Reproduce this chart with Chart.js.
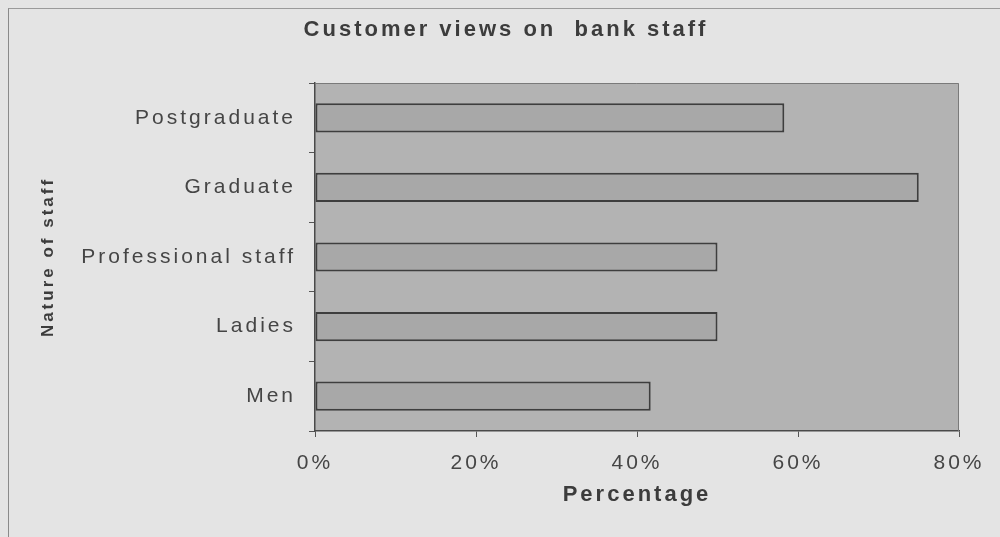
<!DOCTYPE html>
<html>
<head>
<meta charset="utf-8">
<script src="https://cdn.jsdelivr.net/npm/chart.js@4"></script>
<style>
  html, body { margin: 0; padding: 0; background: #e4e4e4; }
  #wrap { position: relative; width: 1000px; height: 537px; }
  #frame {
    position: absolute; left: 8px; top: 8px; right: 0; bottom: 0;
    border-left: 1px solid #8a8a8a; border-top: 1px solid #9a9a9a;
  }
  #myChart { position: absolute; left: 0; top: 0; }
</style>
</head>
<body>
<div id="wrap">
  <div id="frame"></div>
  <canvas id="myChart" width="1000" height="537"></canvas>
</div>
<script>
// Staff categories, top to bottom
const labels = ['Postgraduate', 'Graduate', 'Professional staff', 'Ladies', 'Men'];

// Share of customers with a favourable view (%)
const values = [58.3, 75, 50, 50, 41.7];

// Percentage axis
const xMin = 0;
const xMax = 80;
const xStep = 20;

const TEXT = '#3c3c3c';
const FONT = "'Liberation Sans', Arial, sans-serif";

// Spaced-out lettering, reapplied whenever the canvas state is reset
const spacing = {
    id: 'spacing',
    beforeLayout(chart) { chart.ctx.letterSpacing = '3px'; },
    beforeDraw(chart) { chart.ctx.letterSpacing = '3px'; }
};

// Grey plot background with a thin outline on top and right
const plotArea = {
    id: 'plotArea',
    beforeDraw(chart) {
        const { ctx, chartArea: a } = chart;
        ctx.save();
        ctx.fillStyle = '#b3b3b3';
        ctx.fillRect(a.left, a.top, a.right - a.left, a.bottom - a.top);
        ctx.restore();
    },
    beforeDatasetsDraw(chart) {
        const { ctx, chartArea: a } = chart;
        ctx.save();
        ctx.strokeStyle = '#7a7a7a';
        ctx.lineWidth = 1;
        ctx.beginPath();
        ctx.moveTo(a.left, a.top + 0.5);
        ctx.lineTo(a.right - 0.5, a.top + 0.5);
        ctx.lineTo(a.right - 0.5, a.bottom);
        ctx.stroke();
        ctx.restore();
    }
};

const data = {
    labels: labels,
    datasets: [{
        data: values,
        backgroundColor: '#a8a8a8',
        borderColor: '#3e3e3e',
        borderWidth: 2,
        borderSkipped: false,
        barPercentage: 0.42,
        categoryPercentage: 1
    }]
};

const config = {
    type: 'bar',
    data: data,
    plugins: [spacing, plotArea],
    options: {
        indexAxis: 'y',
        responsive: false,
        animation: false,
        // left padding only centres the title; the y axis width below fixes the plot edge
        layout: { padding: { left: 53, right: 41, top: 0, bottom: 0 } },
        plugins: {
            legend: { display: false },
            tooltip: { enabled: false },
            title: {
                display: true,
                text: 'Customer views on  bank staff',
                color: TEXT,
                font: { family: FONT, size: 22, weight: 'bold', lineHeight: 1.2 },
                padding: { top: 17, bottom: 39.6 }
            }
        },
        scales: {
            x: {
                min: xMin,
                max: xMax,
                afterFit(scale) { scale.height = 106; },
                ticks: {
                    stepSize: xStep,
                    color: '#454545',
                    padding: 14,
                    font: { family: FONT, size: 21, lineHeight: 1.2 },
                    callback: v => v + '%'
                },
                grid: {
                    drawOnChartArea: false,
                    drawTicks: true,
                    tickLength: 6,
                    color: '#555'
                },
                border: { display: true, color: '#4a4a4a', width: 1.5 },
                title: {
                    display: true,
                    text: 'Percentage',
                    color: TEXT,
                    font: { family: FONT, size: 22, weight: 'bold', lineHeight: 1.2 },
                    padding: { top: 0, bottom: 29 }
                }
            },
            y: {
                afterFit(scale) { scale.width = 262; },
                ticks: {
                    color: '#454545',
                    padding: 13,
                    font: { family: FONT, size: 21, lineHeight: 1.2 }
                },
                grid: {
                    offset: true,
                    drawOnChartArea: false,
                    drawTicks: true,
                    tickLength: 6,
                    color: '#555'
                },
                border: { display: true, color: '#4a4a4a', width: 1.5 },
                title: {
                    display: true,
                    text: 'Nature of staff',
                    color: TEXT,
                    font: { family: FONT, size: 17, weight: 'bold', lineHeight: 1.2 },
                    padding: { top: -15.2, bottom: 0 }
                }
            }
        }
    }
};

const ctx = document.getElementById('myChart').getContext('2d');
new Chart(ctx, config);
</script>
</body>
</html>
